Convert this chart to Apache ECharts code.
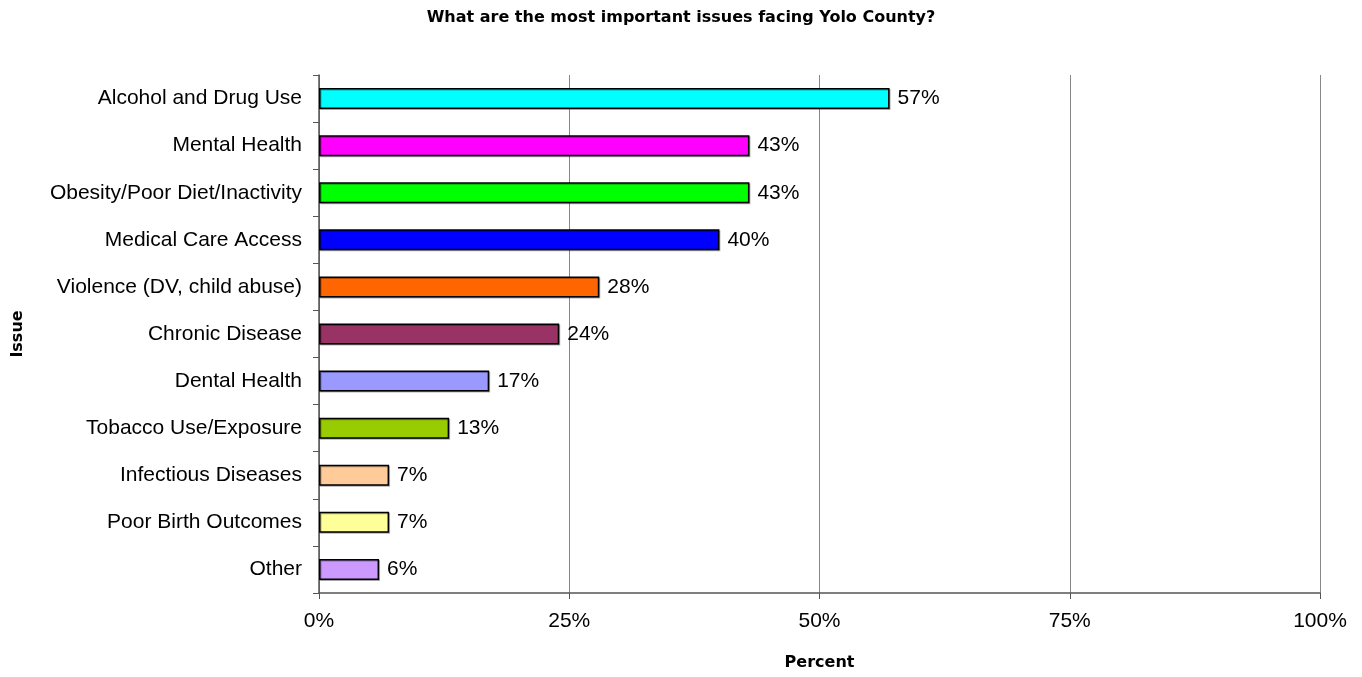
<!DOCTYPE html>
<html><head><meta charset="utf-8">
<script src="https://cdn.jsdelivr.net/npm/echarts@6/dist/echarts.min.js"></script>
<style>html,body{margin:0;padding:0;background:#fff}#c{width:1362px;height:677px}</style>
</head><body><div id="c"></div>
<script>
const categories = ["Alcohol and Drug Use","Mental Health","Obesity/Poor Diet/Inactivity","Medical Care Access","Violence (DV, child abuse)","Chronic Disease","Dental Health","Tobacco Use/Exposure","Infectious Diseases","Poor Birth Outcomes","Other"];
const values = [57,43,43,40,28,24,17,13,7,7,6];
const colors = ["#00FFFF","#FF00FF","#00FF00","#0000FF","#FF6600","#993366","#9999FF","#99CC00","#FFCC99","#FFFF99","#CC99FF"];
const xTicks = [0,25,50,75,100];

const chart = echarts.init(document.getElementById('c'), null, {renderer:'canvas'});
const font = '"Liberation Sans", Arial, sans-serif';
const bold = '"DejaVu Sans", "Liberation Sans", sans-serif';
chart.setOption({
  animation:false,
  title:{text:'What are the most important issues facing Yolo County?',left:'center',top:5,
    textStyle:{fontFamily:bold,fontSize:16,fontWeight:'bold',color:'#000'}},
  grid:{left:319,right:42,top:75,bottom:84,containLabel:false},
  xAxis:{type:'value',min:0,max:100,interval:25,
    name:'Percent',nameLocation:'middle',nameGap:62,
    nameTextStyle:{fontFamily:bold,fontSize:16,fontWeight:'bold',color:'#000'},
    axisLine:{show:true,lineStyle:{color:'#555',width:1.5}},
    axisTick:{show:true,length:6,lineStyle:{color:'#555'}},
    axisLabel:{formatter:v=>xTicks.includes(v)?v+'%':'',fontFamily:font,fontSize:21,color:'#000',margin:18},
    splitLine:{show:true,lineStyle:{color:'#888',width:1}}},
  yAxis:{type:'category',data:categories,inverse:true,
    name:'Issue',nameLocation:'middle',nameGap:293,nameRotate:90,
    nameTextStyle:{fontFamily:bold,fontSize:16,fontWeight:'bold',color:'#000'},
    axisLine:{show:true,lineStyle:{color:'#555',width:1.5}},
    axisTick:{show:true,length:6,alignWithLabel:false,lineStyle:{color:'#555'}},
    axisLabel:{fontFamily:font,fontSize:21,color:'#000',margin:17}},
  series:[{type:'bar',data:values.map((v,i)=>({value:v,itemStyle:{color:colors[i]}})),
    barWidth:21,
    itemStyle:{borderColor:'#000',borderWidth:1.5,shadowColor:'rgba(0,0,0,0.3)',shadowOffsetX:1,shadowOffsetY:1,shadowBlur:0},
    label:{show:true,position:'right',distance:8,formatter:'{c}%',fontFamily:font,fontSize:21,color:'#000'}}]
});
</script></body></html>
